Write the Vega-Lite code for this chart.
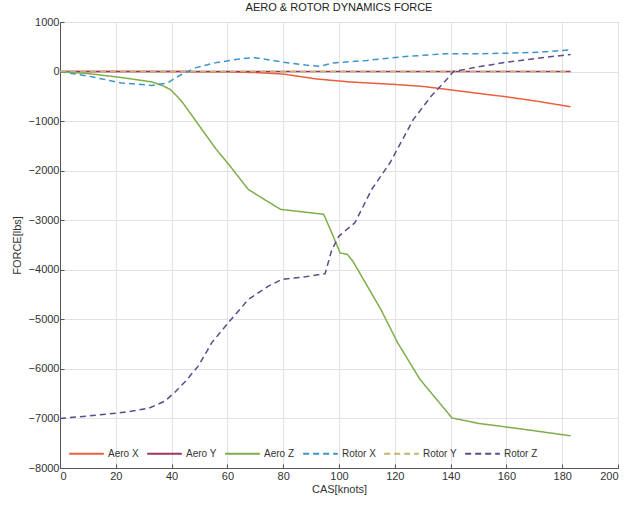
{
  "$schema": "https://vega.github.io/schema/vega-lite/v6.json",
  "autosize": "none",
  "width": 558,
  "height": 446,
  "padding": {"left": 60, "top": 22, "right": 14, "bottom": 44},
  "background": "white",
  "title": {"text": "AERO & ROTOR DYNAMICS FORCE", "fontSize": 11, "fontWeight": "normal", "font": "Liberation Sans", "color": "#222", "offset": 3},
  "config": {
    "view": {"stroke": "#555", "strokeWidth": 1},
    "axis": {"labelFont": "Liberation Sans", "titleFont": "Liberation Sans", "labelFontSize": 11, "titleFontSize": 11, "titleFontWeight": "normal", "labelColor": "#333", "titleColor": "#333", "gridColor": "#e2e2e2", "gridWidth": 1, "domainColor": "#555", "tickColor": "#555", "tickSize": -4}
  },
  "data": {"values": [
    {"x": 0, "y": 0, "series": "Aero X"}, {"x": 20, "y": 0, "series": "Aero X"}, {"x": 40, "y": 0, "series": "Aero X"}, {"x": 60, "y": -5, "series": "Aero X"}, {"x": 70, "y": -20, "series": "Aero X"}, {"x": 80, "y": -50, "series": "Aero X"}, {"x": 92, "y": -150, "series": "Aero X"}, {"x": 104, "y": -210, "series": "Aero X"}, {"x": 120, "y": -260, "series": "Aero X"}, {"x": 130, "y": -300, "series": "Aero X"}, {"x": 140, "y": -370, "series": "Aero X"}, {"x": 150, "y": -440, "series": "Aero X"}, {"x": 160, "y": -510, "series": "Aero X"}, {"x": 170, "y": -590, "series": "Aero X"}, {"x": 183, "y": -710, "series": "Aero X"},
    {"x": 0, "y": 0, "series": "Aero Y"}, {"x": 60, "y": 0, "series": "Aero Y"}, {"x": 120, "y": 0, "series": "Aero Y"}, {"x": 183, "y": 0, "series": "Aero Y"},
    {"x": 0, "y": 0, "series": "Aero Z"}, {"x": 10, "y": -40, "series": "Aero Z"}, {"x": 22, "y": -120, "series": "Aero Z"}, {"x": 33, "y": -210, "series": "Aero Z"}, {"x": 37, "y": -290, "series": "Aero Z"}, {"x": 39.5, "y": -360, "series": "Aero Z"}, {"x": 42.5, "y": -530, "series": "Aero Z"}, {"x": 44, "y": -630, "series": "Aero Z"}, {"x": 50, "y": -1100, "series": "Aero Z"}, {"x": 56, "y": -1570, "series": "Aero Z"}, {"x": 61, "y": -1910, "series": "Aero Z"}, {"x": 67.5, "y": -2380, "series": "Aero Z"}, {"x": 79, "y": -2780, "series": "Aero Z"}, {"x": 94.5, "y": -2880, "series": "Aero Z"}, {"x": 97, "y": -3200, "series": "Aero Z"}, {"x": 100.4, "y": -3660, "series": "Aero Z"}, {"x": 103, "y": -3690, "series": "Aero Z"}, {"x": 105, "y": -3830, "series": "Aero Z"}, {"x": 115, "y": -4800, "series": "Aero Z"}, {"x": 121, "y": -5470, "series": "Aero Z"}, {"x": 129, "y": -6210, "series": "Aero Z"}, {"x": 140.5, "y": -6990, "series": "Aero Z"}, {"x": 150, "y": -7100, "series": "Aero Z"}, {"x": 165, "y": -7210, "series": "Aero Z"}, {"x": 183, "y": -7350, "series": "Aero Z"},
    {"x": 0, "y": 0, "series": "Rotor X"}, {"x": 10, "y": -90, "series": "Rotor X"}, {"x": 22, "y": -230, "series": "Rotor X"}, {"x": 33, "y": -280, "series": "Rotor X"}, {"x": 38.5, "y": -230, "series": "Rotor X"}, {"x": 43.5, "y": -60, "series": "Rotor X"}, {"x": 48.5, "y": 75, "series": "Rotor X"}, {"x": 55.5, "y": 175, "series": "Rotor X"}, {"x": 65, "y": 260, "series": "Rotor X"}, {"x": 70, "y": 280, "series": "Rotor X"}, {"x": 80, "y": 190, "series": "Rotor X"}, {"x": 88, "y": 130, "series": "Rotor X"}, {"x": 93, "y": 105, "series": "Rotor X"}, {"x": 98, "y": 175, "series": "Rotor X"}, {"x": 110, "y": 225, "series": "Rotor X"}, {"x": 122, "y": 295, "series": "Rotor X"}, {"x": 138, "y": 360, "series": "Rotor X"}, {"x": 150, "y": 360, "series": "Rotor X"}, {"x": 160, "y": 370, "series": "Rotor X"}, {"x": 172, "y": 390, "series": "Rotor X"}, {"x": 183, "y": 440, "series": "Rotor X"},
    {"x": 0, "y": 0, "series": "Rotor Y"}, {"x": 60, "y": 0, "series": "Rotor Y"}, {"x": 120, "y": 0, "series": "Rotor Y"}, {"x": 183, "y": 0, "series": "Rotor Y"},
    {"x": 0, "y": -7000, "series": "Rotor Z"}, {"x": 10, "y": -6950, "series": "Rotor Z"}, {"x": 20, "y": -6895, "series": "Rotor Z"}, {"x": 26, "y": -6850, "series": "Rotor Z"}, {"x": 32, "y": -6790, "series": "Rotor Z"}, {"x": 37.6, "y": -6650, "series": "Rotor Z"}, {"x": 41, "y": -6480, "series": "Rotor Z"}, {"x": 45, "y": -6250, "series": "Rotor Z"}, {"x": 49.6, "y": -5940, "series": "Rotor Z"}, {"x": 54.4, "y": -5470, "series": "Rotor Z"}, {"x": 60.3, "y": -5070, "series": "Rotor Z"}, {"x": 67.5, "y": -4600, "series": "Rotor Z"}, {"x": 74.7, "y": -4330, "series": "Rotor Z"}, {"x": 79.5, "y": -4195, "series": "Rotor Z"}, {"x": 88, "y": -4140, "series": "Rotor Z"}, {"x": 95, "y": -4080, "series": "Rotor Z"}, {"x": 97.4, "y": -3600, "series": "Rotor Z"}, {"x": 100, "y": -3320, "series": "Rotor Z"}, {"x": 105.7, "y": -3050, "series": "Rotor Z"}, {"x": 111.7, "y": -2380, "series": "Rotor Z"}, {"x": 118.3, "y": -1840, "series": "Rotor Z"}, {"x": 126.6, "y": -970, "series": "Rotor Z"}, {"x": 133, "y": -500, "series": "Rotor Z"}, {"x": 138.6, "y": -160, "series": "Rotor Z"}, {"x": 141, "y": 0, "series": "Rotor Z"}, {"x": 148, "y": 75, "series": "Rotor Z"}, {"x": 160, "y": 190, "series": "Rotor Z"}, {"x": 172, "y": 275, "series": "Rotor Z"}, {"x": 183, "y": 345, "series": "Rotor Z"}
  ]},
  "mark": {"type": "line", "strokeWidth": 1.5, "clip": true},
  "encoding": {
    "x": {"field": "x", "type": "quantitative", "scale": {"domain": [0, 200], "nice": false}, "axis": {"title": "CAS[knots]", "values": [0, 20, 40, 60, 80, 100, 120, 140, 160, 180, 200], "labelPadding": 6, "titlePadding": 2}},
    "y": {"field": "y", "type": "quantitative", "scale": {"domain": [-8000, 1000], "nice": false}, "axis": {"title": "FORCE[lbs]", "format": "d", "values": [-8000, -7000, -6000, -5000, -4000, -3000, -2000, -1000, 0, 1000], "labelPadding": 5, "titlePadding": 6}},
    "color": {"field": "series", "type": "nominal", "scale": {"domain": ["Aero X", "Aero Y", "Aero Z", "Rotor X", "Rotor Y", "Rotor Z"], "range": ["#E8603C", "#9E3566", "#7DAE4A", "#3E94C8", "#C2B46A", "#5E4A8C"]},
      "legend": {"title": null, "orient": "none", "legendX": 8, "legendY": 413, "direction": "horizontal", "columns": 6, "symbolType": "stroke", "symbolSize": 1200, "symbolStrokeWidth": 2, "labelFont": "Liberation Sans", "labelFontSize": 10, "labelColor": "#333", "columnPadding": 4, "labelOffset": 3}},
    "strokeDash": {"field": "series", "type": "nominal", "scale": {"domain": ["Aero X", "Aero Y", "Aero Z", "Rotor X", "Rotor Y", "Rotor Z"], "range": [[1, 0], [1, 0], [1, 0], [6, 4], [6, 4], [6, 4]]}, "legend": {"title": null}}
  }
}
